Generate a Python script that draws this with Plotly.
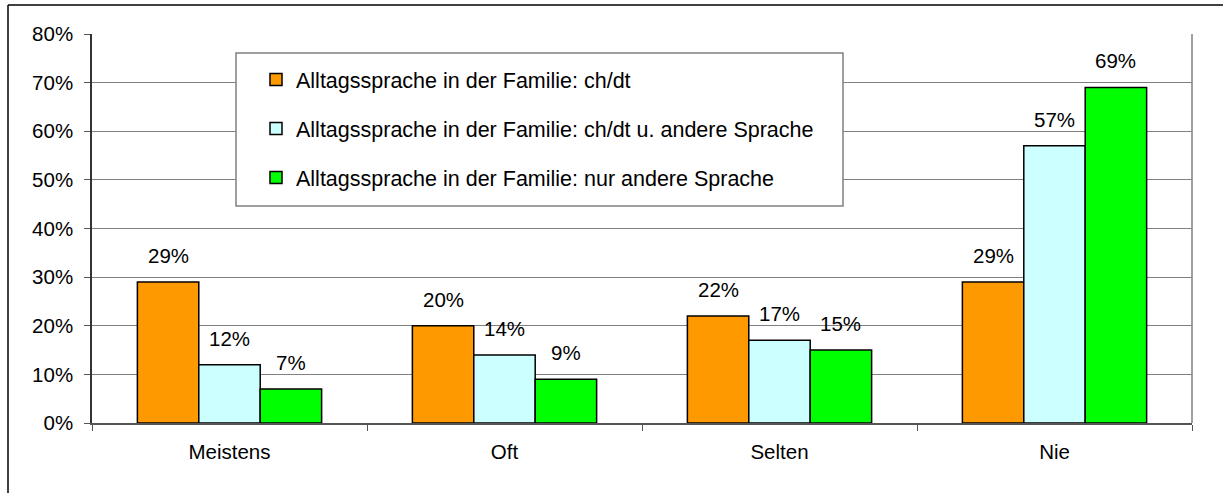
import plotly.graph_objects as go

categories = ["Meistens", "Oft", "Selten", "Nie"]
series_names = [
    "Alltagssprache in der Familie: ch/dt",
    "Alltagssprache in der Familie: ch/dt u. andere Sprache",
    "Alltagssprache in der Familie: nur andere Sprache",
]
vals_chdt = [29, 20, 22, 29]
vals_mixed = [12, 14, 17, 57]
vals_other = [7, 9, 15, 69]
colors = ["#FF9900", "#CCFFFF", "#00FF00"]
y_ticks = [0, 10, 20, 30, 40, 50, 60, 70, 80]

series = [vals_chdt, vals_mixed, vals_other]
FONT = "Liberation Sans, Arial, sans-serif"
FS = 20.5

fig = go.Figure()
for i, (name, vals, col) in enumerate(zip(series_names, series, colors)):
    fig.add_trace(go.Bar(
        x=categories, y=vals, name=name, legendgroup=f"g{i}",
        marker=dict(color=col, line=dict(color="black", width=1.5)),
    ))

# data labels
bar_px = 61.3
annotations = []
for i, vals in enumerate(series):
    for c, v in zip(categories, vals):
        annotations.append(dict(
            x=c, y=v, xref="x", yref="y", text=f"{v}%", showarrow=False,
            xanchor="center", yanchor="bottom", xshift=(i - 1) * bar_px, yshift=13,
            font=dict(family=FONT, size=FS, color="black"),
        ))

L, R, T, B = 92, 31, 34, 70
W, H = 1223, 493
pw, ph = W - L - R, H - T - B

def px(x):
    return (x - L) / pw

def py(y):
    return (H - B - y) / ph

shapes = [
    # outer chart frame (left and top visible)
    dict(type="line", xref="paper", yref="paper", x0=px(8), x1=px(8), y0=py(500), y1=py(5),
         line=dict(color="black", width=1.5)),
    dict(type="line", xref="paper", yref="paper", x0=px(8), x1=px(1230), y0=py(5), y1=py(5),
         line=dict(color="black", width=1.5)),
    # right border of plot area
    dict(type="line", xref="paper", yref="paper", x0=1, x1=1, y0=0, y1=1,
         line=dict(color="#808080", width=1.5)),
    # legend box
    dict(type="rect", xref="paper", yref="paper", x0=px(236), x1=px(843), y0=py(206), y1=py(53),
         line=dict(color="#808080", width=1.5), fillcolor="white", layer="above"),
]

fig.update_layout(
    width=W, height=H,
    margin=dict(l=L, r=R, t=T, b=B),
    paper_bgcolor="white", plot_bgcolor="white",
    barmode="group", bargap=0.33, bargroupgap=0,
    font=dict(family=FONT, size=FS, color="black"),
    showlegend=True,
    legend=dict(
        x=px(256), y=py(59), xanchor="left", yanchor="top",
        bgcolor="rgba(0,0,0,0)", borderwidth=0,
        font=dict(family=FONT, size=21.5, color="black"),
        tracegroupgap=18,
    ),
    annotations=annotations,
    shapes=shapes,
    xaxis=dict(
        type="category", tickson="boundaries", ticks="outside", ticklen=6,
        tickcolor="#555555", showline=True, linecolor="#555555", linewidth=1.5,
        showgrid=False, tickfont=dict(size=FS), ticklabelstandoff=10,
    ),
    yaxis=dict(
        range=[0, 80], tickvals=y_ticks, ticktext=[f"{t}%" for t in y_ticks],
        ticks="outside", ticklen=6, tickcolor="#555555",
        showline=True, linecolor="#333333", linewidth=1.5,
        showgrid=True, gridcolor="#808080", gridwidth=1, zeroline=False,
        tickfont=dict(size=FS), ticklabelstandoff=7,
    ),
)

fig.write_html(
    "out.html",
    config={"displayModeBar": False},
    post_script="document.body.style.margin='0';document.body.style.overflow='hidden';",
)
